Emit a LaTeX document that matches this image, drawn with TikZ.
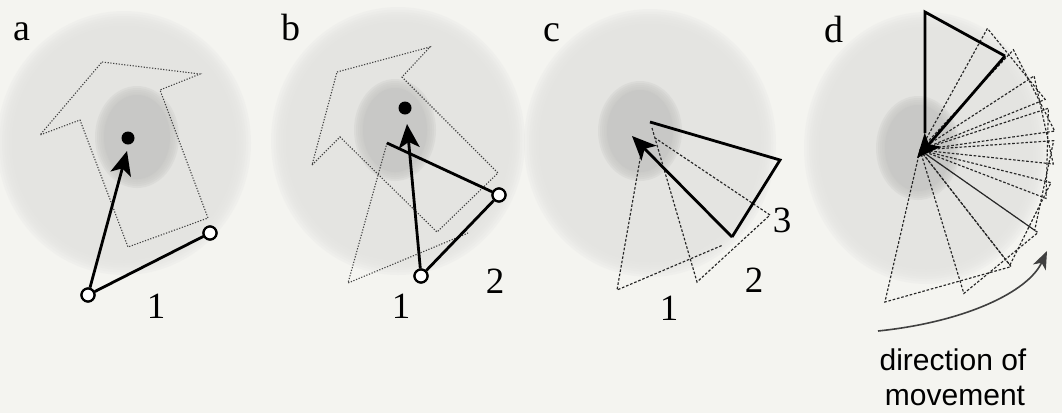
\documentclass[tikz,border=0pt]{standalone}
\usepackage{fontspec}
\setmainfont{Liberation Serif}
\newfontfamily\sansf{Liberation Sans}
\usetikzlibrary{arrows.meta,calc}
\definecolor{bgc}{RGB}{244,244,240}
\definecolor{discc}{RGB}{228,228,225}
\definecolor{innerc}{RGB}{200,200,198}
\newcommand\softdisc[5]{%
  \foreach \k in {0,...,7}{%
    \fill[#5, opacity=0.25] (#1,#2) ellipse [x radius={(#3+9-2.5*\k)*1pt}, y radius={(#4+9-2.5*\k)*1pt}];}%
  \fill[#5] (#1,#2) ellipse [x radius={(#3-10)*1pt}, y radius={(#4-10)*1pt}];}
\newcommand\softinner[5]{%
  \foreach \k in {0,...,4}{%
    \fill[#5, opacity=0.3] (#1,#2) ellipse [x radius={(#3+4-2*\k)*1pt}, y radius={(#4+4-2*\k)*1pt}];}%
  \fill[#5] (#1,#2) ellipse [x radius={(#3-5)*1pt}, y radius={(#4-5)*1pt}];}
\tikzset{
  lbl/.style={font=\fontsize{38}{40}\selectfont, inner sep=0pt, anchor=base},
  num/.style={font=\fontsize{37}{40}\selectfont, inner sep=0pt, anchor=base},
  solidline/.style={line width=2.8pt, black, line join=miter},
  arrowline/.style={line width=2.8pt, black, -{Stealth[length=24pt,width=21pt,inset=6pt]}},
  dotline/.style={line width=1.1pt, black!75, dash pattern=on 1.2pt off 1.6pt},
  dashline/.style={line width=1.15pt, black!85, dash pattern=on 2.6pt off 1.8pt},
  ring/.style={circle, draw=black, line width=2.2pt, fill=white, minimum size=13pt, inner sep=0pt},
  bdot/.style={circle, fill=black, minimum size=13pt, inner sep=0pt},
}
\begin{document}
\begin{tikzpicture}[x=1pt,y=-1pt]
\fill[bgc] (0,0) rectangle (1062,413);
\useasboundingbox (0,0) rectangle (1062,413);
% discs
\softdisc{124}{143}{118}{123}{discc}
\softdisc{398}{141}{118}{125}{discc}
\softdisc{650}{143}{117}{125}{discc}
\softdisc{926}{148}{113}{127}{discc}
\softinner{137}{137}{38}{47}{innerc}
\softinner{395}{130}{37}{47}{innerc}
\softinner{640}{131}{38}{46}{innerc}
\softinner{918}{148}{38}{48}{innerc}

% ---------- panel a ----------
\draw[dotline] (102,62) -- (200,74) -- (160,90) -- (208,218) -- (128,247) -- (80,120) -- (40,135) -- cycle;
\coordinate (atip) at (127,151);
\node[ring] (a1) at (88,295) {};
\node[ring] (a2) at (210,233) {};
\draw[solidline] (a1) -- (a2);
\draw[arrowline] (a1) -- (atip);
\node[ring] at (a1) {};
\node[ring] at (a2) {};
\node[bdot] (adot) at (128,138) {};
\node[lbl] (la) at (22,40) {a};
\node[num] (na) at (156,318) {1};

% ---------- panel b ----------
\draw[dotline] (337,72) -- (430,47) -- (402,77) -- (498,173) -- (437,232) -- (340,137) -- (312,165) -- cycle;
\coordinate (bapex) at (387,143);
\coordinate (bold) at (348,283);
\coordinate (bold2) at (468,233);
\draw[dotline] (bapex) -- (bold) -- (bold2);
\coordinate (btip) at (407,124);
\node[ring] (b1) at (421,276) {};
\node[ring] (b2) at (499,195) {};
\draw[solidline] (b1) -- (b2);
\draw[solidline] (b2) -- (bapex);
\draw[arrowline] (b1) -- (btip);
\node[ring] at (b1) {};
\node[ring] at (b2) {};
\node[bdot] (bdot) at (405,108) {};
\node[lbl] (lb) at (291,40) {b};
\node[num] (nb1) at (401,318) {1};
\node[num] (nb2) at (495,293) {2};

% ---------- panel c ----------
\draw[dashline] (642,148) -- (617,290) -- (723,245);
\draw[dashline] (652,128) -- (697,282) -- (770,215) -- (655,138);
\coordinate (capex) at (650,122);
\coordinate (cfar) at (780,160);
\coordinate (cbase) at (732,237);
\coordinate (ctip) at (632,136);
\draw[solidline] (capex) -- (cfar) -- (cbase);
\draw[arrowline] (cbase) -- (ctip);
\node[lbl] (lc) at (552,41) {c};
\node[num] (nc1) at (669,320) {1};
\node[num] (nc2) at (754,292) {2};
\node[num] (nc3) at (782,232) {3};

% ---------- panel d ----------
\coordinate (Cd) at (920,150);
\foreach \a/\b/\ra/\rb in {-61/-22/139/135, -47/-8/137/136, -33/6/136/134, -18/21/135/135, -4/35/134/140, 14/52/135/146, 35/73/144/150, 52/103/148/156}
  \draw[dashline] (Cd) -- ($(Cd)+(\a:\ra)$) -- ($(Cd)+(\b:\rb)$) -- cycle;
\coordinate (dnear) at (925,133);
\coordinate (dtop) at (925,12);
\coordinate (dfar) at (1005,56);
\coordinate (dtip) at (917,158);
\draw[solidline] (dnear) -- (dtop) -- (dfar);
\draw[arrowline] (dfar) -- (dtip);
\node[lbl] (ld) at (834,42) {d};
\coordinate (mvs) at (878,331);
\coordinate (mve) at (1047,251);
\draw[line width=1.6pt, black!75, -{Stealth[length=18pt,width=14pt,inset=5pt]}] (mvs) .. controls (965,322) and (1028,292) .. (mve);
\node[font=\sansf\fontsize{30}{34}\selectfont, inner sep=0pt, anchor=base] (t1) at (953,370) {direction of};
\node[font=\sansf\fontsize{30}{34}\selectfont, inner sep=0pt, anchor=base] (t2) at (955,405) {movement};
\end{tikzpicture}
\end{document}
